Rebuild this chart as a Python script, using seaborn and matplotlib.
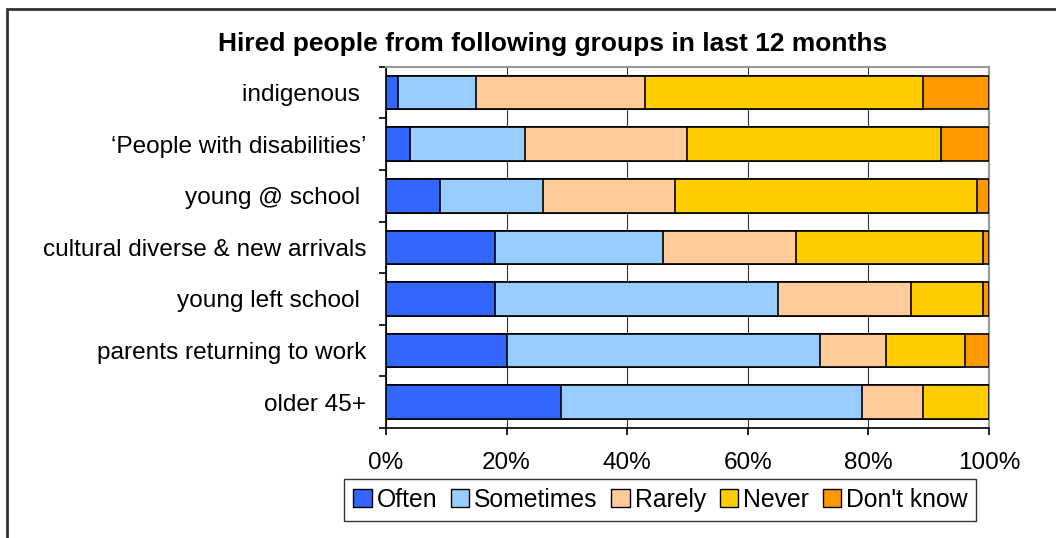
import matplotlib
matplotlib.use("Agg")
import matplotlib.pyplot as plt
from matplotlib.patches import Patch, Rectangle
import numpy as np
import pandas as pd
import seaborn as sns

groups = [
    "indigenous ",
    "\u2018People with disabilities\u2019",
    "young @ school ",
    "cultural diverse & new arrivals",
    "young left school ",
    "parents returning to work",
    "older 45+",
]
often = [2, 4, 9, 18, 18, 20, 29]
sometimes = [13, 19, 17, 28, 47, 52, 50]
rarely = [28, 27, 22, 22, 22, 11, 10]
never = [46, 42, 50, 31, 12, 13, 11]
dont_know = [11, 8, 2, 1, 1, 4, 0]

series_names = ["Often", "Sometimes", "Rarely", "Never", "Don't know"]
series_values = [often, sometimes, rarely, never, dont_know]
colors = ["#3366FF", "#99CCFF", "#FFCC99", "#FFCC00", "#FF9900"]

sns.set_theme(style="white")
plt.rcParams["font.family"] = ["Liberation Sans", "DejaVu Sans"]
plt.rcParams["text.color"] = "black"
plt.rcParams["xtick.color"] = "black"
plt.rcParams["ytick.color"] = "black"

fig = plt.figure(figsize=(10.56, 5.38), dpi=100)
ax = fig.add_axes([0.3655, 0.2045, 0.571, 0.6715])

# cumulative totals, drawn from the widest layer down so each segment shows
cum = np.cumsum(np.array(series_values), axis=0)
for i in range(len(series_names) - 1, -1, -1):
    df = pd.DataFrame({"group": groups, "value": cum[i]})
    sns.barplot(data=df, x="value", y="group", orient="h", color=colors[i],
                edgecolor="black", linewidth=1.2, width=0.65, saturation=1,
                ax=ax, zorder=3)

ax.set_xlim(0, 100)
ax.set_ylim(len(groups) - 0.5, -0.5)
ax.set_xticks(np.arange(0, 101, 20))
ax.set_xticklabels([f"{v}%" for v in range(0, 101, 20)], fontsize=17.5)
ax.set_yticks(range(len(groups)))
ax.set_yticklabels(groups, fontsize=17.6)
ax.set_xlabel("")
ax.set_ylabel("")

ax.grid(axis="x", color="#333333", linewidth=0.8, zorder=0)
ax.set_axisbelow(True)

for side in ["top", "right"]:
    ax.spines[side].set_color("#999999")
    ax.spines[side].set_linewidth(1.5)
for side in ["left", "bottom"]:
    ax.spines[side].set_color("black")
    ax.spines[side].set_linewidth(1.2)

# ticks on category boundaries and at percent gridlines
ax.set_yticks(np.arange(-0.5, len(groups), 1), minor=True)
ax.tick_params(axis="y", which="minor", length=5, width=1.2, color="black", left=True)
ax.tick_params(axis="y", which="major", length=0, pad=14)
ax.tick_params(axis="x", which="major", length=5, width=1.2, color="black",
               bottom=True, pad=12)

fig.text(0.5237, 0.918, "Hired people from following groups in last 12 months",
         ha="center", va="center", fontsize=19, fontweight="bold")

handles = [Patch(facecolor=c, edgecolor="black", linewidth=1) for c in colors]
leg = fig.legend(handles, series_names, loc="center", ncol=5,
                 bbox_to_anchor=(0.6254, 0.0706), fontsize=17.8, frameon=True,
                 fancybox=False, handlelength=0.75, handleheight=0.75,
                 handletextpad=0.2, columnspacing=0.55, borderpad=0.35)
leg.get_frame().set_edgecolor("black")
leg.get_frame().set_linewidth(1)

# outer chart frame
fig.add_artist(Rectangle((0.0066, -0.05), 1.2, 1.033, transform=fig.transFigure,
                         fill=False, edgecolor="#333333", linewidth=2))

fig.savefig("out.png", dpi=100)
